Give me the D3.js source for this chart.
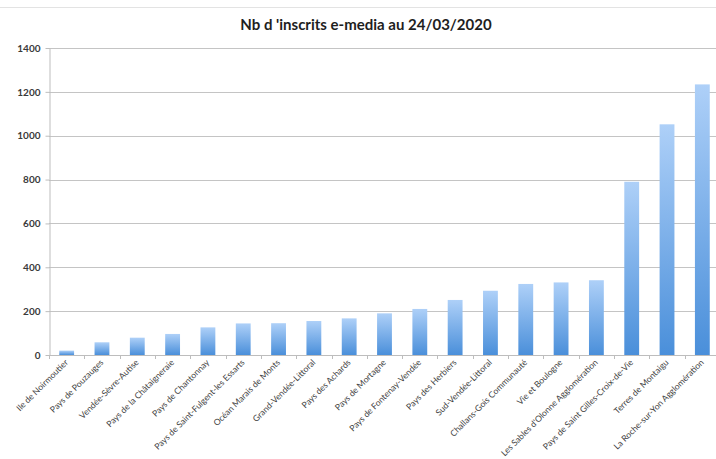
<!DOCTYPE html>
<html>
<head>
<meta charset="utf-8">
<script src="https://cdn.jsdelivr.net/npm/d3@7"></script>
<style>
  html, body { margin: 0; padding: 0; background: #fff; }
  svg { display: block; }
</style>
</head>
<body>
<svg id="chart" width="716" height="459"></svg>
<script>
// Registered e-media users per territory, 24/03/2020
const categories = [
  "Ile de Noirmoutier",
  "Pays de Pouzauges",
  "Vendée-Sèvre-Autise",
  "Pays de la Châtaigneraie",
  "Pays de Chantonnay",
  "Pays de Saint-Fulgent-les Essarts",
  "Océan Marais de Monts",
  "Grand-Vendée-Littoral",
  "Pays des Achards",
  "Pays de Mortagne",
  "Pays de Fontenay-Vendée",
  "Pays des Herbiers",
  "Sud-Vendée-Littoral",
  "Challans-Gois Communauté",
  "Vie et Boulogne",
  "Les Sables d'Olonne Agglomération",
  "Pays de Saint Gilles-Croix-de-Vie",
  "Terres de Montaigu",
  "La Roche-sur-Yon Agglomération"
];
const inscrits = [20, 58, 79, 96, 126, 144, 145, 155, 167, 190, 210, 251, 293, 324, 331, 341, 790, 1052, 1234];
const yTicks = [0, 200, 400, 600, 800, 1000, 1200, 1400];
const title = "Nb d 'inscrits e-media au 24/03/2020";

const svg = d3.select("#chart");
const W = 716, H = 459;
const plotLeft = 49, plotTop = 48, plotBottom = 355, plotRight = 720;

const x = d3.scaleBand().domain(categories).range([plotLeft, plotRight]).paddingInner(0.58).paddingOuter(0.29);
const y = d3.scaleLinear().domain([0, 1400]).range([plotBottom, plotTop]);

// faint frame line at the top of the chart area
svg.append("line").attr("x1", 0).attr("x2", W).attr("y1", 7.5).attr("y2", 7.5)
  .attr("stroke", "#e3e3e3").attr("stroke-width", 1);

// bar gradient: light blue at top, deeper blue at the base
const defs = svg.append("defs");
const grad = defs.append("linearGradient").attr("id", "barGrad")
  .attr("x1", 0).attr("y1", 0).attr("x2", 0).attr("y2", 1);
grad.append("stop").attr("offset", "0%").attr("stop-color", "#aed0f8");
grad.append("stop").attr("offset", "100%").attr("stop-color", "#4a8fda");

// horizontal gridlines
svg.append("g").selectAll("line").data(yTicks.filter(d => d > 0)).join("line")
  .attr("x1", plotLeft).attr("x2", W)
  .attr("y1", d => Math.round(y(d)) + 0.5).attr("y2", d => Math.round(y(d)) + 0.5)
  .attr("stroke", "#c4c4c4").attr("stroke-width", 1);

// y axis
const yAxis = svg.append("g").attr("transform", `translate(${plotLeft + 0.5},0)`)
  .call(d3.axisLeft(y).tickValues(yTicks).tickFormat(d3.format("d"))
    .tickSize(4).tickSizeOuter(0).tickPadding(5));
yAxis.select(".domain").attr("stroke", "#bdbdbd");
yAxis.selectAll(".tick line").attr("stroke", "#bdbdbd");
yAxis.selectAll(".tick text")
  .attr("font-family", "Lato, 'Open Sans', sans-serif")
  .attr("font-size", "10px").attr("font-weight", "bold").attr("fill", "#3a3a3a");

// bars
svg.append("g").selectAll("rect").data(inscrits).join("rect")
  .attr("x", (d, i) => x(categories[i]))
  .attr("width", x.bandwidth())
  .attr("y", d => y(d))
  .attr("height", d => y(0) - y(d))
  .attr("fill", "url(#barGrad)");

// x axis with ticks at category boundaries
const step = x.step();
const bounds = d3.range(categories.length + 1).map(i => plotLeft + i * step);
svg.append("line").attr("x1", plotLeft).attr("x2", W).attr("y1", plotBottom + 0.5).attr("y2", plotBottom + 0.5)
  .attr("stroke", "#bdbdbd");
svg.append("g").selectAll("line").data(bounds).join("line")
  .attr("x1", d => Math.round(d) + 0.5).attr("x2", d => Math.round(d) + 0.5)
  .attr("y1", plotBottom).attr("y2", plotBottom + 4)
  .attr("stroke", "#bdbdbd");

// rotated category labels
svg.append("g").selectAll("text").data(categories).join("text")
  .attr("transform", d => `translate(${x(d) + x.bandwidth() / 2 + 2},${plotBottom + 8}) rotate(-45)`)
  .attr("text-anchor", "end")
  .attr("font-family", "Lato, 'Open Sans', sans-serif")
  .attr("font-size", "8.6px")
  .attr("fill", "#3f3f3f")
  .text(d => d);

// title
svg.append("text")
  .attr("x", 366).attr("y", 30)
  .attr("text-anchor", "middle")
  .attr("font-family", "Lato, 'Open Sans', sans-serif")
  .attr("font-size", "15px").attr("font-weight", "bold")
  .attr("fill", "#1e1e1e")
  .text(title);
</script>
</body>
</html>
